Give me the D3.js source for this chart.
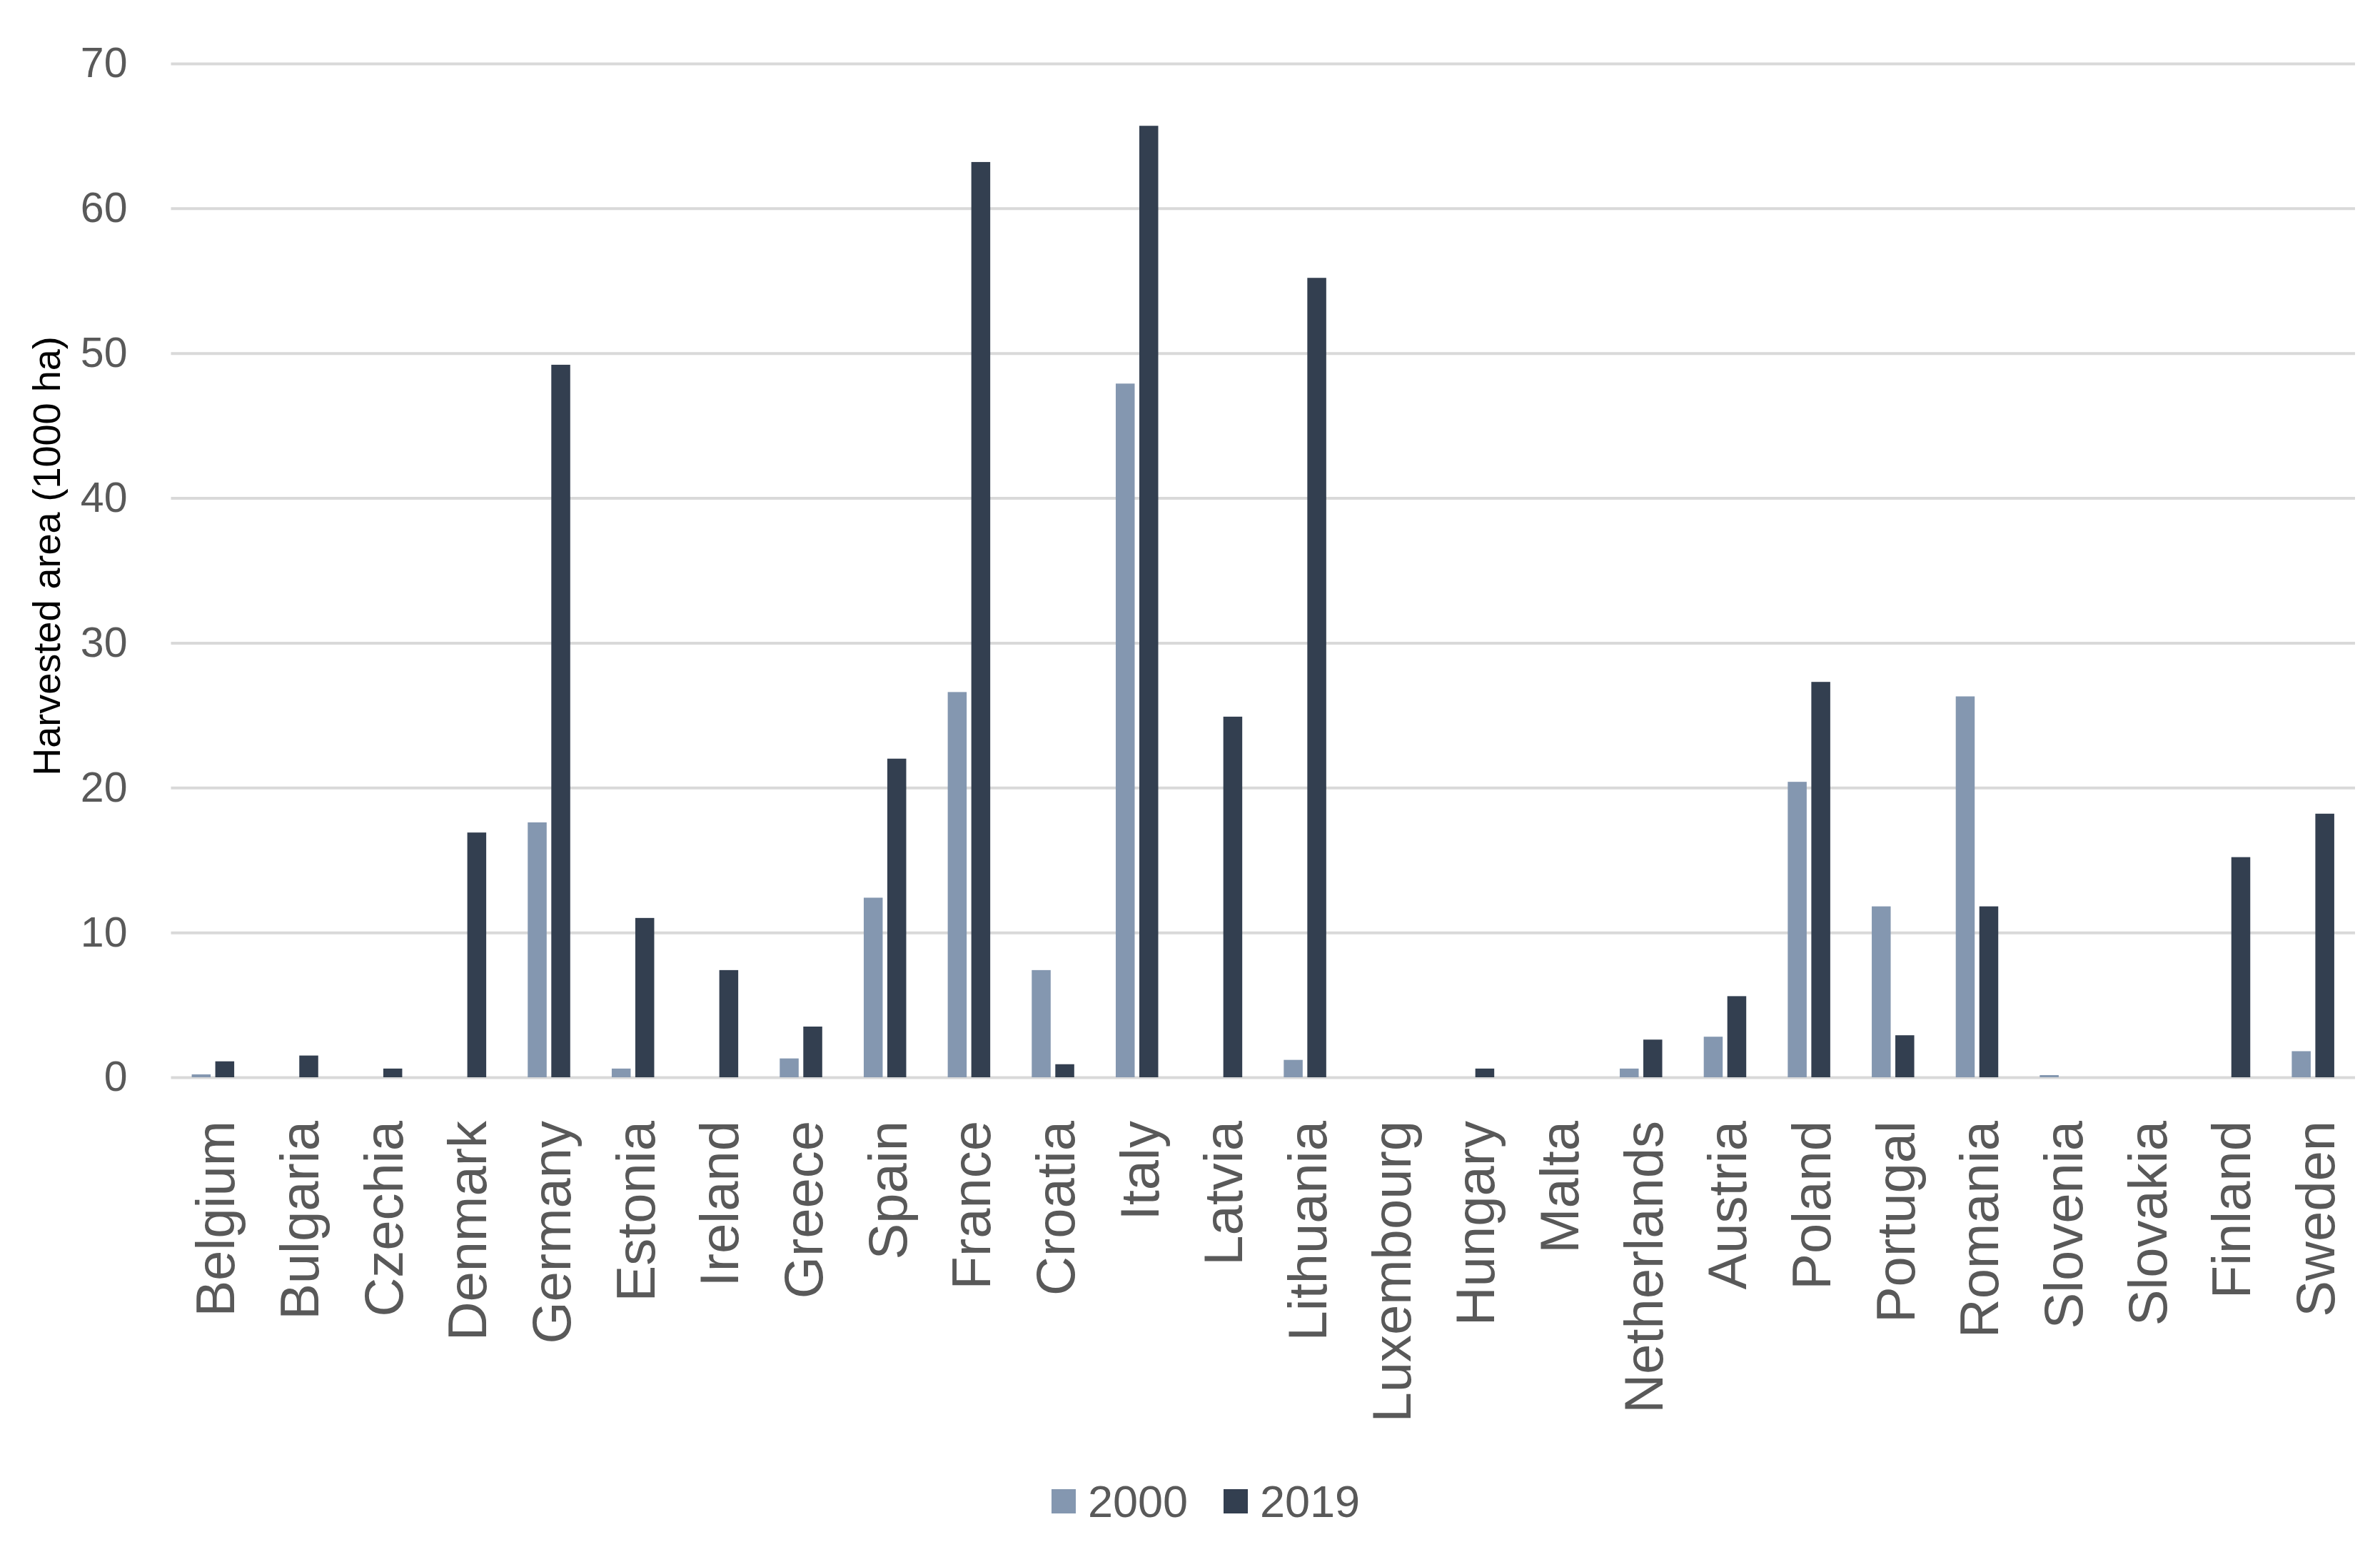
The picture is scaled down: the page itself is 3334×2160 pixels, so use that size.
<!DOCTYPE html>
<html>
<head>
<meta charset="utf-8">
<script src="https://cdn.jsdelivr.net/npm/d3@7"></script>
<style>
  html, body { margin: 0; padding: 0; background: #ffffff; }
  svg { display: block; font-family: "Liberation Sans", Arial, sans-serif; }
</style>
</head>
<body>
<svg id="chart" width="3334" height="2160"></svg>
<script>
const categories = ["Belgium","Bulgaria","Czechia","Denmark","Germany","Estonia","Ireland","Greece","Spain","France","Croatia","Italy","Latvia","Lithuania","Luxembourg","Hungary","Malta","Netherlands","Austria","Poland","Portugal","Romania","Slovenia","Slovakia","Finland","Sweden"];
const seriesNames = ["2000","2019"];
const values2000 = [0.2,0,0,0,17.6,0.6,0,1.3,12.4,26.6,7.4,47.9,0,1.2,0,0,0,0.6,2.8,20.4,11.8,26.3,0.15,0,0,1.8];
const values2019 = [1.1,1.5,0.6,16.9,49.2,11.0,7.4,3.5,22.0,63.2,0.9,65.7,24.9,55.2,0,0.6,0,2.6,5.6,27.3,2.9,11.8,0,0,15.2,18.2];
const yTicks = [0,10,20,30,40,50,60,70];
const yTitle = "Harvested area (1000 ha)";
const colors = {"2000":"#8497B0","2019":"#333F50"};

const svg = d3.select("#chart");
svg.append("rect").attr("width",3334).attr("height",2160).attr("fill","#ffffff");

const plotLeft = 239.5, plotRight = 3299;
const x0 = d3.scaleBand().domain(categories).range([plotLeft, plotRight]).paddingInner(0).paddingOuter(0);
const x1 = d3.scaleBand().domain(seriesNames).range([0, x0.bandwidth()]).paddingInner(0.197).paddingOuter(0.881);
const y = d3.scaleLinear().domain([0,70]).range([1509, 89]);

// y axis with gridlines
const yAxis = d3.axisLeft(y).tickValues(yTicks).tickSize(-(plotRight - plotLeft)).tickPadding(61).tickFormat(d3.format("d"));
const gy = svg.append("g").attr("transform", `translate(${plotLeft},0)`).call(yAxis);
gy.select(".domain").remove();
gy.selectAll(".tick line").attr("stroke","#D9D9D9").attr("stroke-width",4);
gy.selectAll(".tick text").attr("fill","#595959").attr("font-size",59).attr("dy","0.32em")
  .attr("font-family","'Liberation Sans', Arial, sans-serif");

// bars
const data = categories.map((c,i) => ({cat:c, vals:[{s:"2000",v:values2000[i]},{s:"2019",v:values2019[i]}]}));
const groups = svg.append("g").selectAll("g").data(data).join("g")
  .attr("transform", d => `translate(${x0(d.cat)},0)`);
groups.selectAll("rect").data(d => d.vals).join("rect")
  .attr("x", d => x1(d.s))
  .attr("width", x1.bandwidth())
  .attr("y", d => y(d.v))
  .attr("height", d => y(0) - y(d.v))
  .attr("fill", d => colors[d.s]);

// x axis labels
const xAxis = d3.axisBottom(x0).tickSize(0).tickPadding(0);
const gx = svg.append("g").attr("transform","translate(0,1570)").call(xAxis);
gx.select(".domain").remove();
gx.selectAll(".tick text")
  .attr("transform","rotate(-90)")
  .attr("x",0).attr("y",30).attr("dy",0)
  .attr("text-anchor","end")
  .attr("fill","#595959").attr("font-size",76)
  .attr("font-family","'Liberation Sans', Arial, sans-serif");

// y title
svg.append("text")
  .attr("transform","translate(84,779) rotate(-90)")
  .attr("text-anchor","middle")
  .attr("font-size",54).attr("fill","#000000")
  .text(yTitle);

// legend
const legendX = [1473, 1714];
const lg = svg.append("g");
seriesNames.forEach((s,i) => {
  lg.append("rect").attr("x",legendX[i]).attr("y",2086).attr("width",34).attr("height",34).attr("fill",colors[s]);
  lg.append("text").attr("x",legendX[i]+51).attr("y",2103).attr("dy","0.35em")
    .attr("font-size",63).attr("fill","#595959").text(s);
});
</script>
</body>
</html>
